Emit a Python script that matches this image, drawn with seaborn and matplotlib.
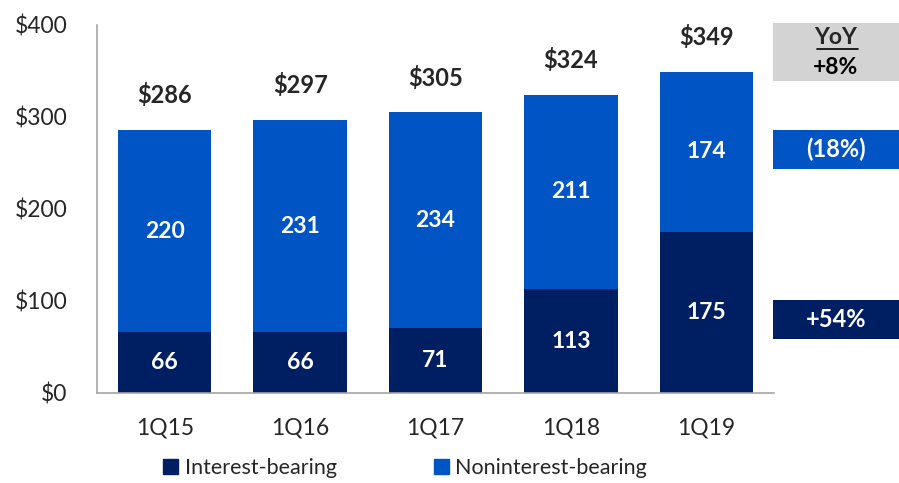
import pandas as pd
import seaborn as sns
import matplotlib.pyplot as plt
from matplotlib.patches import Rectangle, Patch

# data
quarters = ["1Q15", "1Q16", "1Q17", "1Q18", "1Q19"]
interest = [66, 66, 71, 113, 175]
noninterest = [220, 231, 234, 211, 174]
totals = [286, 297, 305, 324, 349]
yoy_labels = ["+8%", "(18%)", "+54%"]

navy = "#001F63"
blue = "#0054C4"
grey = "#D3D3D3"

sns.set_style("white")
plt.rcParams["font.family"] = ["Lato", "DejaVu Sans"]

df = pd.DataFrame({"quarter": quarters, "Interest-bearing": interest,
                   "Noninterest-bearing": noninterest, "total": totals})

fig = plt.figure(figsize=(8.99, 4.83), dpi=100)
ax = fig.add_axes([97 / 899, 90 / 483, 677 / 899, 368 / 483])

# stacked bars: total in blue, interest-bearing on top in navy
sns.barplot(data=df, x="quarter", y="total", color=blue, width=0.69,
            saturation=1, linewidth=0, ax=ax)
sns.barplot(data=df, x="quarter", y="Interest-bearing", color=navy, width=0.69,
            saturation=1, linewidth=0, ax=ax)

for i, (ib, nb, t) in enumerate(zip(interest, noninterest, totals)):
    ax.text(i, ib / 2, f"{ib}", ha="center", va="center", color="white",
            fontsize=16.5, fontweight="bold")
    ax.text(i, ib + nb / 2, f"{nb}", ha="center", va="center", color="white",
            fontsize=16.5, fontweight="bold")
    ax.annotate(f"${t}", (i, t), xytext=(0, 25), textcoords="offset points",
                ha="center", va="center", fontsize=17, fontweight="bold")

ax.set_ylim(0, 400)
ax.set_xlim(-0.5, 4.5)
ax.set_yticks([0, 100, 200, 300, 400])
ax.set_yticklabels([f"${v}" for v in [0, 100, 200, 300, 400]], fontsize=16.5)
ax.tick_params(axis="x", labelsize=16.5, pad=14)
ax.tick_params(axis="y", pad=18)
ax.set_xlabel("")
ax.set_ylabel("")
for s in ["top", "right"]:
    ax.spines[s].set_visible(False)
for s in ["left", "bottom"]:
    ax.spines[s].set_color("#A6A6A6")
    ax.spines[s].set_linewidth(1.2)

# YoY boxes on the right
W, H = 899, 483
boxes = [(23, 81, grey, "black"), (130, 169, blue, "white"), (300, 339, navy, "white")]
for (y0, y1, fc, tc), lab in zip(boxes, yoy_labels):
    fig.patches.append(Rectangle((773 / W, 1 - y1 / H), 126 / W, (y1 - y0) / H,
                                 transform=fig.transFigure, facecolor=fc,
                                 edgecolor="none"))
    if fc == grey:
        fig.text(836 / W, 1 - 37 / H, "YoY", ha="center", va="center",
                 fontsize=16.5, fontweight="bold")
        fig.lines.append(plt.Line2D([817 / W, 858 / W], [1 - 49 / H, 1 - 49 / H],
                                    transform=fig.transFigure, color="black", lw=1.2))
        fig.text(836 / W, 1 - 68 / H, lab, ha="center", va="center",
                 fontsize=16.5, fontweight="bold", color=tc)
    else:
        fig.text(836 / W, 1 - (y0 + y1) / 2 / H, lab, ha="center", va="center",
                 fontsize=17, fontweight="bold", color=tc)

handles = [Patch(color=navy, label="Interest-bearing"),
           Patch(color=blue, label="Noninterest-bearing")]
fig.legend(handles=handles, loc="center", bbox_to_anchor=(405 / W, 1 - 468 / H),
           ncol=2, frameon=False, fontsize=15.5, handlelength=0.7, handleheight=0.7,
           handletextpad=0.3, columnspacing=4.5)

fig.savefig("out.png", dpi=100)
